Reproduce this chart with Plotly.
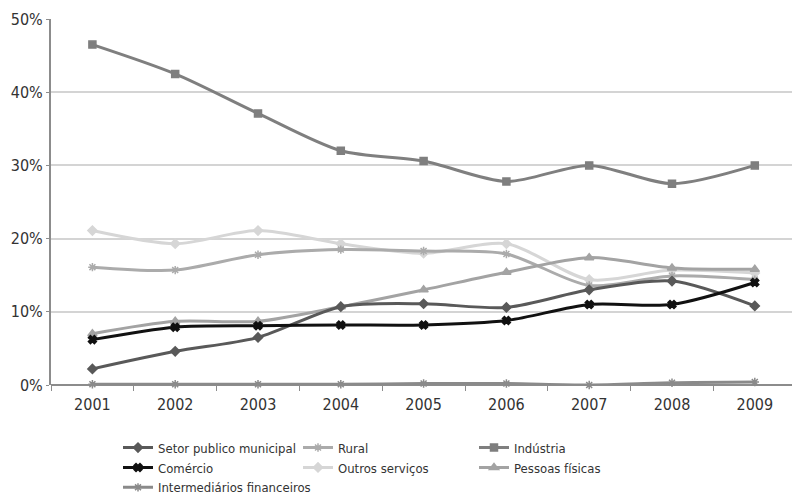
import plotly.graph_objects as go

years = [2001, 2002, 2003, 2004, 2005, 2006, 2007, 2008, 2009]

setor_publico = [2.2, 4.6, 6.5, 10.7, 11.1, 10.6, 13.0, 14.2, 10.8]
rural = [16.1, 15.7, 17.8, 18.5, 18.3, 17.9, 13.6, 14.9, 14.4]
industria = [46.5, 42.5, 37.1, 32.0, 30.6, 27.8, 30.0, 27.5, 30.0]
comercio = [6.2, 7.9, 8.1, 8.2, 8.2, 8.8, 11.0, 11.0, 14.0]
outros_servicos = [21.1, 19.3, 21.1, 19.3, 18.0, 19.3, 14.4, 15.7, 15.3]
pessoas_fisicas = [7.0, 8.7, 8.7, 10.7, 13.0, 15.4, 17.4, 16.0, 15.8]
intermediarios = [0.1, 0.1, 0.1, 0.1, 0.2, 0.2, 0.0, 0.3, 0.4]

y_ticks = [0, 10, 20, 30, 40, 50]
y_labels = ["0%", "10%", "20%", "30%", "40%", "50%"]

FONT = "DejaVu Sans Condensed, Roboto Condensed, Roboto, sans-serif"

series = [
    # name, values, colour, marker symbol, marker size, legend column, rank
    ("Setor publico municipal", setor_publico, "#595959", "diamond", 7, "legend", 1),
    ("Comércio", comercio, "#111111", "x", 7, "legend", 2),
    ("Intermediários financeiros", intermediarios, "#8a8a8a", "asterisk-open", 7, "legend", 3),
    ("Rural", rural, "#ababab", "asterisk-open", 7, "legend2", 1),
    ("Outros serviços", outros_servicos, "#d6d6d6", "diamond", 7, "legend2", 2),
    ("Indústria", industria, "#7f7f7f", "square", 7, "legend3", 1),
    ("Pessoas físicas", pessoas_fisicas, "#a3a3a3", "triangle-up", 8, "legend3", 2),
]

# lighter lines are drawn first so the darker ones sit on top
draw_order = ["Intermediários financeiros", "Outros serviços", "Rural", "Pessoas físicas",
              "Setor publico municipal", "Comércio", "Indústria"]

fig = go.Figure()
lookup = {s[0]: s for s in series}
for name in draw_order:
    _, vals, color, sym, size, lg, rank = lookup[name]
    fig.add_trace(go.Scatter(
        x=years, y=vals, name=name, mode="lines+markers",
        line=dict(color=color, width=3, shape="spline", smoothing=0.8),
        marker=dict(symbol=sym, size=size, color=color,
                    line=dict(color=color, width=1.5)),
        legend=lg, legendrank=rank, cliponaxis=False,
    ))

legend_font = dict(family=FONT, size=13, color="#333333")
common_legend = dict(orientation="v", xanchor="left", yanchor="top",
                     bgcolor="rgba(0,0,0,0)", font=legend_font,
                     itemwidth=30, tracegroupgap=0, traceorder="normal")

fig.update_layout(
    width=792, height=494,
    margin=dict(l=51, r=0, t=19, b=109, autoexpand=False),
    paper_bgcolor="white", plot_bgcolor="white",
    font=dict(family=FONT, color="#333333"),
    legend=dict(x=(118 - 51) / 741, y=-0.13, **common_legend),
    legend2=dict(x=(298 - 51) / 741, y=-0.13, **common_legend),
    legend3=dict(x=(474 - 51) / 741, y=-0.13, **common_legend),
    xaxis=dict(
        range=[2000.5, 2000.5 + 741 / 82.8],
        tickvals=years, ticktext=[str(y) for y in years],
        ticks="", showgrid=False, zeroline=False, showline=False,
        ticklabelstandoff=8,
        tickfont=dict(family=FONT, size=16, color="#333333"),
        minor=dict(tick0=2000.5, dtick=1, ticks="outside", ticklen=5,
                   tickcolor="#8c8c8c", tickwidth=1, showgrid=False),
    ),
    yaxis=dict(
        range=[0, 50], tickvals=y_ticks, ticktext=y_labels,
        showgrid=True, gridcolor="#d4d4d4", gridwidth=2,
        zeroline=True, zerolinecolor="#8c8c8c", zerolinewidth=2,
        showline=True, linecolor="#8c8c8c", linewidth=2,
        ticks="outside", ticklen=3, tickcolor="#8c8c8c",
        tickfont=dict(family=FONT, size=16, color="#333333"),
    ),
)

fig.write_html("out.html")
